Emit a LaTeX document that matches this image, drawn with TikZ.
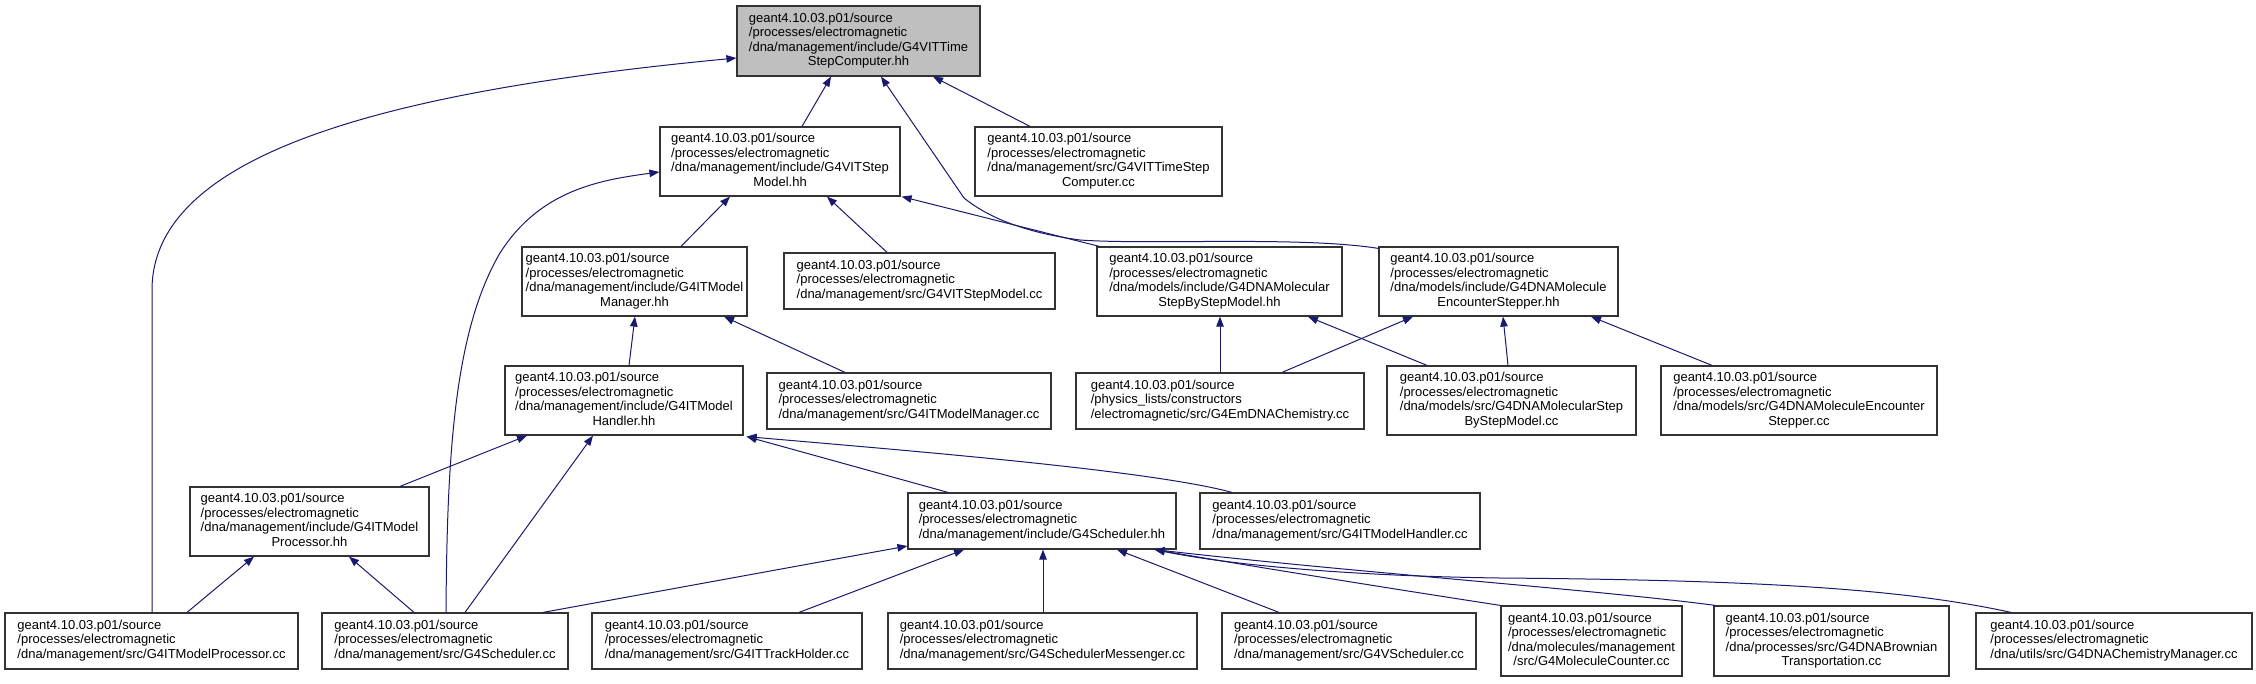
\documentclass[tikz,border=0pt]{standalone}
\usepackage{fontspec}
\setmainfont{Liberation Sans}
\usetikzlibrary{arrows.meta,calc}
\definecolor{edgec}{HTML}{191970}
\definecolor{rootfill}{HTML}{BFBFBF}
\newcommand{\ftext}[1]{\begin{tabular}{@{}l@{}}#1\end{tabular}}
\newcommand{\lastc}[1]{\multicolumn{1}{@{}c@{}}{#1}}
\newcommand{\pa}{geant4.10.03.p01/source\\/processes/electromagnetic\\}
\begin{document}
\begin{tikzpicture}[x=1pt,y=-1pt,
  fbox/.style={draw=black!80, line width=1.2pt, inner sep=0pt, fill=white,
    font=\fontsize{13}{14.5}\selectfont},
  four/.style={minimum height=69pt},
  three/.style={minimum height=56pt},
  edge/.style={draw=edgec, line width=1pt, -{Triangle[length=10pt,width=7.5pt]}}]
\fill[white] (0,0) rectangle (2256,683);
\useasboundingbox (0,0) rectangle (2256,683);

% row 0
\node[fbox, four, minimum height=70pt, minimum width=243pt, fill=rootfill] (root) at (858.5,41)
  {\ftext{\pa/dna/management/include/G4VITTime\\\lastc{StepComputer.hh}}};
% row 1
\node[fbox, four, minimum width=240pt] (smhh) at (780,161.5)
  {\ftext{\pa/dna/management/include/G4VITStep\\\lastc{Model.hh}}};
\node[fbox, four, minimum width=247pt] (tscc) at (1098.5,161.5)
  {\ftext{\pa/dna/management/src/G4VITTimeStep\\\lastc{Computer.cc}}};
% row 2
\node[fbox, four, minimum width=225pt] (mmhh) at (634.5,281.5)
  {\ftext{\pa/dna/management/include/G4ITModel\\\lastc{Manager.hh}}};
\node[fbox, three, minimum width=271pt] (smcc) at (919.5,281)
  {\ftext{\pa/dna/management/src/G4VITStepModel.cc}};
\node[fbox, four, minimum width=245pt] (mshh) at (1219.5,281.5)
  {\ftext{\pa/dna/models/include/G4DNAMolecular\\\lastc{StepByStepModel.hh}}};
\node[fbox, four, minimum width=239pt] (eshh) at (1498.5,281.5)
  {\ftext{\pa/dna/models/include/G4DNAMolecule\\\lastc{EncounterStepper.hh}}};
% row 3
\node[fbox, four, minimum width=238pt] (mhhh) at (624,400.5)
  {\ftext{\pa/dna/management/include/G4ITModel\\\lastc{Handler.hh}}};
\node[fbox, three, minimum width=284pt] (mmcc) at (909,401)
  {\ftext{\pa/dna/management/src/G4ITModelManager.cc}};
\node[fbox, three, minimum width=288pt] (emcc) at (1220,401)
  {\ftext{geant4.10.03.p01/source\\/physics\_lists/constructors\\/electromagnetic/src/G4EmDNAChemistry.cc}};
\node[fbox, four, minimum width=249pt] (mscc) at (1511.5,400.5)
  {\ftext{\pa/dna/models/src/G4DNAMolecularStep\\\lastc{ByStepModel.cc}}};
\node[fbox, four, minimum width=276pt] (escc) at (1799,400.5)
  {\ftext{\pa/dna/models/src/G4DNAMoleculeEncounter\\\lastc{Stepper.cc}}};
% row 4
\node[fbox, four, minimum width=239pt] (mphh) at (309.5,521.5)
  {\ftext{\pa/dna/management/include/G4ITModel\\\lastc{Processor.hh}}};
\node[fbox, three, minimum width=268pt] (schh) at (1042,521)
  {\ftext{\pa/dna/management/include/G4Scheduler.hh}};
\node[fbox, three, minimum width=280pt] (mhcc) at (1340,521)
  {\ftext{\pa/dna/management/src/G4ITModelHandler.cc}};
% row 5
\node[fbox, three, minimum width=293pt] (mpcc) at (151.5,641)
  {\ftext{\pa/dna/management/src/G4ITModelProcessor.cc}};
\node[fbox, three, minimum width=246pt] (sccc) at (445,641)
  {\ftext{\pa/dna/management/src/G4Scheduler.cc}};
\node[fbox, three, minimum width=270pt] (thcc) at (727,641)
  {\ftext{\pa/dna/management/src/G4ITTrackHolder.cc}};
\node[fbox, three, minimum width=309pt] (smsg) at (1042.5,641)
  {\ftext{\pa/dna/management/src/G4SchedulerMessenger.cc}};
\node[fbox, three, minimum width=254pt] (vscc) at (1349,641)
  {\ftext{\pa/dna/management/src/G4VScheduler.cc}};
\node[fbox, minimum height=70pt, minimum width=181pt] (mccc) at (1591.5,641)
  {\ftext{\pa/dna/molecules/management\\\lastc{/src/G4MoleculeCounter.cc}}};
\node[fbox, minimum height=70pt, minimum width=235pt] (brcc) at (1831.5,641)
  {\ftext{\pa/dna/processes/src/G4DNABrownian\\\lastc{Transportation.cc}}};
\node[fbox, three, minimum width=276pt] (cmcc) at (2114,641)
  {\ftext{\pa/dna/utils/src/G4DNAChemistryManager.cc}};

% edges to root
\draw[edge] ([xshift=22pt]smhh.north) -- ([xshift=-27.5pt]root.south);
\draw[edge] ([xshift=-68.5pt]tscc.north) -- ([xshift=74.5pt]root.south);
\draw[edge] ([xshift=0.5pt]mpcc.north) -- (152,290) .. controls (152,150) and (400,90) .. ([yshift=-17pt]root.west);
\draw[edge] ([yshift=-2pt]eshh.north west) .. controls (1300,236) and (1150,245) .. (1080,240)
  .. controls (1020,232) and (985,215) .. (964,198) -- ([xshift=22.5pt]root.south);
% edges to G4VITStepModel.hh
\draw[edge] ([xshift=46.5pt]mmhh.north) -- ([xshift=-50pt]smhh.south);
\draw[edge] ([xshift=-32.5pt]smcc.north) -- ([xshift=47pt]smhh.south);
\draw[edge] ([xshift=3pt]mshh.north west) -- ([xshift=1pt]smhh.south east);
\draw[edge] ([xshift=1pt]sccc.north) .. controls (447,450) and (455,330) .. (500,253)
  .. controls (540,190) and (600,180) .. ([yshift=-10.5pt]smhh.west);
% edges to G4ITModelManager.hh
\draw[edge] ([xshift=5pt]mhhh.north) -- ([xshift=0.5pt]mmhh.south);
\draw[edge] ([xshift=-64pt]mmcc.north) -- ([xshift=89.5pt]mmhh.south);
% edges to molecular / encounter headers
\draw[edge] (emcc.north) -- ([xshift=0.5pt]mshh.south);
\draw[edge] ([xshift=-84.5pt]mscc.north) -- ([xshift=88.5pt]mshh.south);
\draw[edge] ([xshift=62pt]emcc.north) -- ([xshift=-85.5pt]eshh.south);
\draw[edge] ([xshift=-3.5pt]mscc.north) -- ([xshift=4.5pt]eshh.south);
\draw[edge] ([xshift=-87pt]escc.north) -- ([xshift=92.5pt]eshh.south);
% edges to G4ITModelHandler.hh
\draw[edge] ([xshift=90.5pt]mphh.north) -- ([xshift=-97pt]mhhh.south);
\draw[edge] ([xshift=20pt]sccc.north) -- ([xshift=-31pt]mhhh.south);
\draw[edge] ([xshift=-94pt]schh.north) -- ([xshift=3pt,yshift=-1pt]mhhh.south east);
\draw[edge] ([xshift=-108pt]mhcc.north) .. controls (1150,470) and (900,450) .. ([xshift=3pt,yshift=-1pt]mhhh.south east);
% edges to G4ITModelProcessor.hh
\draw[edge] ([xshift=35.5pt]mpcc.north) -- ([xshift=-55.5pt]mphh.south);
\draw[edge] ([xshift=-31pt]sccc.north) -- ([xshift=39.5pt]mphh.south);
% edges to G4Scheduler.hh
\draw[edge] ([xshift=98pt]sccc.north) -- ([yshift=-25pt]schh.west);
\draw[edge] ([xshift=72pt]thcc.north) -- ([xshift=-78pt]schh.south);
\draw[edge] ([xshift=0.5pt]smsg.north) -- ([xshift=1pt]schh.south);
\draw[edge] ([xshift=-70pt]vscc.north) -- ([xshift=75pt]schh.south);
\draw[edge] (mccc.north west) .. controls (1400,590) and (1250,566) .. ([xshift=-22pt]schh.south east);
\draw[edge] ([xshift=2pt]brcc.north west) .. controls (1600,590) and (1350,572) .. ([xshift=-22pt]schh.south east);
\draw[edge] ([xshift=-103pt]cmcc.north) .. controls (1900,588) and (1750,580) .. (1500,578)
  .. controls (1350,576) and (1230,565) .. ([xshift=-22pt]schh.south east);
\end{tikzpicture}
\end{document}
